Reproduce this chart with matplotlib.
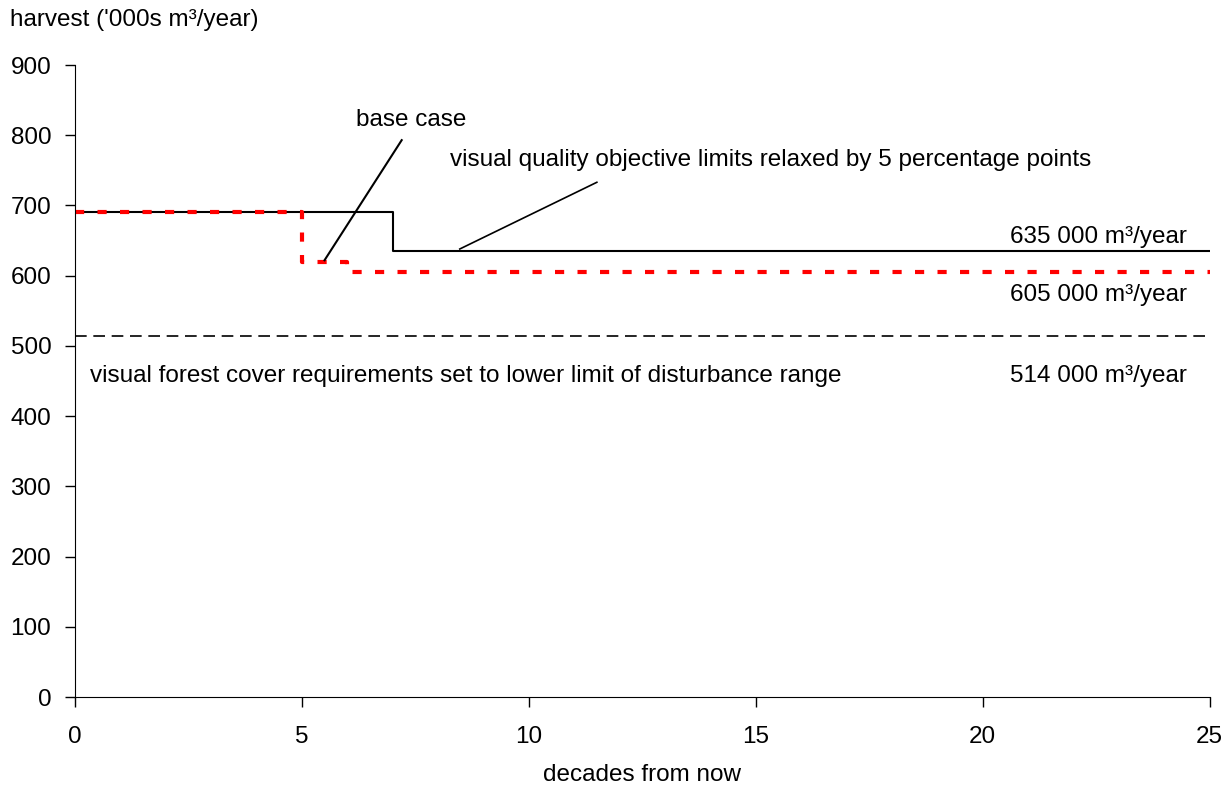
import matplotlib
matplotlib.use('Agg')
import matplotlib.pyplot as plt

# harvest levels ('000s m3/year) by decade, step changes
vqo_x = [0, 7, 25]
vqo_y = [691, 635, 635]
base_x = [0, 5, 6, 25]
base_y = [691, 620, 605, 605]
forest_x = [0, 25]
forest_y = [514, 514]

plt.rcParams['font.family'] = ['Liberation Sans', 'DejaVu Sans']

fig = plt.figure(figsize=(12.28, 7.89), dpi=100)
ax = fig.add_axes([0.061, 0.1166, 0.924, 0.801])

ax.plot(vqo_x, vqo_y, drawstyle='steps-post', color='black', lw=1.5)
ax.plot(base_x, base_y, drawstyle='steps-post', color='red', lw=3,
        dashes=(2.2, 3.2))
ax.plot(forest_x, forest_y, color='black', lw=1.2, dashes=(7, 4))

ax.set_xlim(0, 25)
ax.set_ylim(0, 900)
ax.set_xticks(range(0, 26, 5))
ax.set_yticks(range(0, 901, 100))
ax.spines['top'].set_visible(False)
ax.spines['right'].set_visible(False)
ax.tick_params(labelsize=17.5, length=7, width=1)
ax.tick_params(axis='x', pad=14)
ax.tick_params(axis='y', pad=10)

fs = 17.5
# leader lines
ax.plot([5.5, 7.2], [622, 793], color='black', lw=1.5)
ax.plot([8.48, 11.5], [638, 733], color='black', lw=1.2)

ax.text(7.4, 822, 'base case', fontsize=fs, ha='center', va='center')
ax.text(8.26, 765, 'visual quality objective limits relaxed by 5 percentage points',
        fontsize=fs, ha='left', va='center')

ax.text(24.5, 655, '635 000 m³/year', fontsize=fs, ha='right', va='center')
ax.text(24.5, 573, '605 000 m³/year', fontsize=fs, ha='right', va='center')
ax.text(24.5, 457, '514 000 m³/year', fontsize=fs, ha='right', va='center')
ax.text(0.33, 457, 'visual forest cover requirements set to lower limit of disturbance range',
        fontsize=fs, ha='left', va='center')

fig.text(10 / 1228, 1 - 20 / 789, "harvest ('000s m³/year)", fontsize=fs,
         ha='left', va='center')
fig.text(642 / 1228, 1 - 775 / 789, 'decades from now', fontsize=fs,
         ha='center', va='center')

fig.savefig('out.png', dpi=100)
